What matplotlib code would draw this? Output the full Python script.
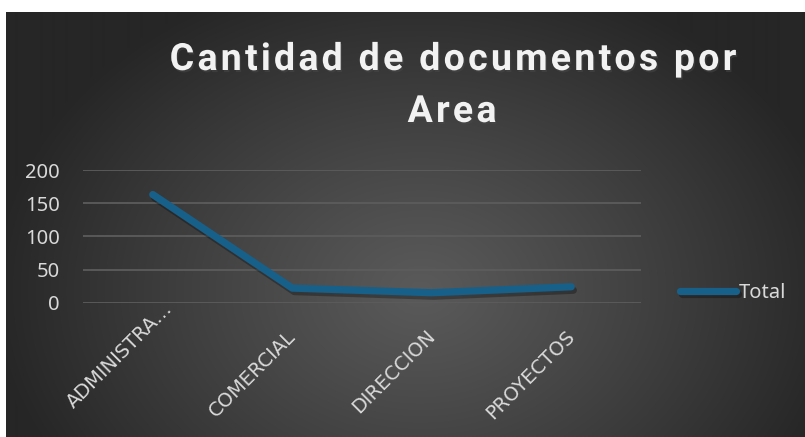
import numpy as np
import matplotlib
matplotlib.use("Agg")
import matplotlib.pyplot as plt
import matplotlib.patheffects as pe
from matplotlib import font_manager
from matplotlib.font_manager import FontProperties
from matplotlib.transforms import ScaledTranslation

# ---------------------- Data ----------------------

areas = ["ADMINISTRA…", "COMERCIAL", "DIRECCION", "PROYECTOS"]
totals = [163, 22, 15, 24]
y_ticks = [0, 50, 100, 150, 200]
series_name = "Total"
title_lines = ["Cantidad de documentos por", "Area"]

# ---------------------- Style ----------------------

W, H = 805, 437
DPI = 100
LINE_COLOR = "#17608a"
TEXT_COLOR = "#d9d9d9"
GRID_COLOR = "#5c5c5c"

installed = {f.name for f in font_manager.fontManager.ttflist}
title_family = "Liberation Sans Narrow" if "Liberation Sans Narrow" in installed else "Roboto"
label_family = "Noto Sans"

fig = plt.figure(figsize=(W / DPI, H / DPI), dpi=DPI)
fig.patch.set_facecolor("white")

# ---------------------- Background gradient ----------------------

bg = fig.add_axes([6 / W, 0, 1 - 6 / W, (H - 12) / H], zorder=-10)
gx, gy = np.meshgrid(np.arange(W - 6), np.arange(H - 12))
cx, cy = 420 - 6, 290 - 12
t = np.sqrt(((gx - cx) / 430.0) ** 2 + ((gy - cy) / 330.0) ** 2)
t = np.clip(t, 0, 1)
shade = (0x5a - (0x5a - 0x26) * t ** 1.1) / 255.0
bg.imshow(np.dstack([shade, shade, shade]), aspect="auto", interpolation="bilinear")
bg.set_axis_off()

# ---------------------- Plot ----------------------

ax = fig.add_axes([83 / W, 1 - 302.7 / H, (641 - 83) / W, (302.7 - 170) / H])
ax.patch.set_alpha(0)
x = np.arange(len(areas))
ax.plot(x, totals, color=LINE_COLOR, lw=5.2, solid_capstyle="round",
        solid_joinstyle="round", label=series_name, clip_on=False, zorder=3,
        path_effects=[pe.SimpleLineShadow(offset=(1.5, -2.5), shadow_color="black", alpha=0.3),
                      pe.Normal()])

ax.set_xlim(-0.5, len(areas) - 0.5)
ax.set_ylim(0, 200)
ax.set_yticks(y_ticks)
ax.yaxis.grid(True, color=GRID_COLOR, lw=1.3)
ax.set_axisbelow(True)
for s in ax.spines.values():
    s.set_visible(False)

ax.tick_params(axis="y", length=0, pad=16.5, labelsize=14.5, labelcolor=TEXT_COLOR)
ax.tick_params(axis="x", length=0, pad=17, labelsize=14, labelcolor=TEXT_COLOR)
for lab in ax.get_yticklabels():
    lab.set_family(label_family)

ax.set_xticks(x)
ax.set_xticklabels(areas, rotation=45, ha="right", va="top", rotation_mode="anchor",
                   family="DejaVu Sans")
# first label sits a little higher in the original
offsets = [(10, -27), (-6, 0), (-6, 0), (-6, 0)]
for lab, (dx, dy) in zip(ax.get_xticklabels(), offsets):
    lab.set_transform(lab.get_transform() + ScaledTranslation(dx / DPI, -dy / DPI, fig.dpi_scale_trans))

leg = ax.legend(loc="center left", bbox_to_anchor=(680 / W, 1 - 293 / H),
                bbox_transform=fig.transFigure, frameon=False, borderpad=0,
                borderaxespad=0, handlelength=2.8, handletextpad=0.1,
                prop=FontProperties(family=label_family, size=14.5))
for txt in leg.get_texts():
    txt.set_color(TEXT_COLOR)

# ---------------------- Title with letter spacing ----------------------

def spaced_text(text, xc, baseline, fp, spacing):
    renderer = fig.canvas.get_renderer()
    bar = renderer.get_text_width_height_descent("||", fp, ismath=False)[0]
    widths = [renderer.get_text_width_height_descent("|" + c + "|", fp, ismath=False)[0] - bar
              for c in text]
    total = sum(widths) + spacing * (len(text) - 1)
    xpos = xc - total / 2
    for c, w in zip(text, widths):
        if c != " ":
            fig.text(xpos / W, 1 - baseline / H, c, fontproperties=fp, color="#f2f2f2",
                     ha="left", va="baseline",
                     path_effects=[pe.withSimplePatchShadow(offset=(1, -1.5), alpha=0.5)])
        xpos += w + spacing

title_fp = FontProperties(family=title_family, weight="bold", size=27)
spaced_text(title_lines[0], 453, 70, title_fp, 3.2)
spaced_text(title_lines[1], 452, 122, title_fp, 3.2)

fig.savefig("out.png", dpi=DPI)
